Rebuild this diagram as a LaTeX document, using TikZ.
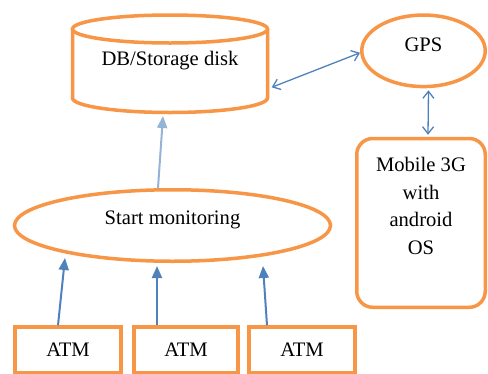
\documentclass[tikz,border=0pt]{standalone}
\usepackage{fontspec}
\setmainfont{Liberation Serif}
\usetikzlibrary{arrows.meta,shapes.geometric}
\definecolor{orng}{HTML}{F79646}
\definecolor{blu}{HTML}{4F81BD}
\definecolor{lblu}{HTML}{95B3D7}
\tikzset{
  orangeline/.style={draw=orng, line width=3.5pt},
  ellnode/.style={ellipse, orangeline, inner sep=0pt, fill=white},
  atmbox/.style={rectangle, orangeline, inner sep=0pt, minimum height=46pt},
  upar/.style={blu, line width=2pt, -{Triangle[length=12pt,width=10pt]}},
  lupar/.style={lblu, line width=2pt, -{Triangle[length=12pt,width=10pt]}},
  biar/.style={blu, line width=1.3pt, {Straight Barb[length=7pt,width=11pt]}-{Straight Barb[length=7pt,width=11pt]}},
  txt/.style={font=\fontsize{20.6}{27.5}\selectfont}
}
\begin{document}
\begin{tikzpicture}[x=1pt,y=1pt]
\useasboundingbox (0,0) rectangle (488,-373);
% cylinder
\draw[orangeline, fill=white] (72.5,-29) -- (72.5,-98) arc[start angle=180, end angle=360, x radius=97.5pt, y radius=14.5pt] -- (267.5,-29);
\draw[orangeline, fill=white] (170,-29) ellipse [x radius=97.5pt, y radius=14pt];
\node[txt] (db) at (170,-60.7) {DB/Storage disk};
\coordinate (dbbottom) at (163,-116);
\coordinate (dbright) at (271.7,-87.3);
% GPS
\node[ellnode, txt, minimum width=123.5pt, minimum height=71.5pt, text depth=12pt] (gps) at (423.5,-50.8) {GPS};
% Mobile
\node[rectangle, rounded corners=16pt, orangeline, minimum width=128.5pt, minimum height=168.8pt] (mob) at (421,-222.9) {};
\node[txt, align=center] (mobt) at (421,-206) {Mobile 3G\\with\\android\\OS};
% Start monitoring
\node[ellnode, txt, minimum width=316pt, minimum height=71.5pt, text depth=15pt] (sm) at (172.5,-225.5) {Start monitoring};
% ATMs
\node[atmbox, txt, minimum width=106pt] (atm1) at (68,-350) {ATM};
\node[atmbox, txt, minimum width=104pt] (atm2) at (186,-350) {ATM};
\node[atmbox, txt, minimum width=106pt] (atm3) at (302,-350) {ATM};
% connectors
\draw[upar] ([xshift=-10pt]atm1.north) -- ([xshift=-107.5pt,yshift=5pt]sm.south);
\draw[upar] ([xshift=-29pt]atm2.north) -- ([xshift=-15.5pt,yshift=-3pt]sm.south);
\draw[upar] ([xshift=-35pt]atm3.north) -- ([xshift=90.5pt,yshift=-3pt]sm.south);
\draw[lupar] ([xshift=-14.5pt]sm.north) -- (dbbottom);
\draw[biar] (dbright) -- ([yshift=-2pt]gps.west);
\draw[biar] ([xshift=5pt,yshift=-2pt]gps.south) -- ([xshift=7pt,yshift=2pt]mob.north);
\end{tikzpicture}
\end{document}
